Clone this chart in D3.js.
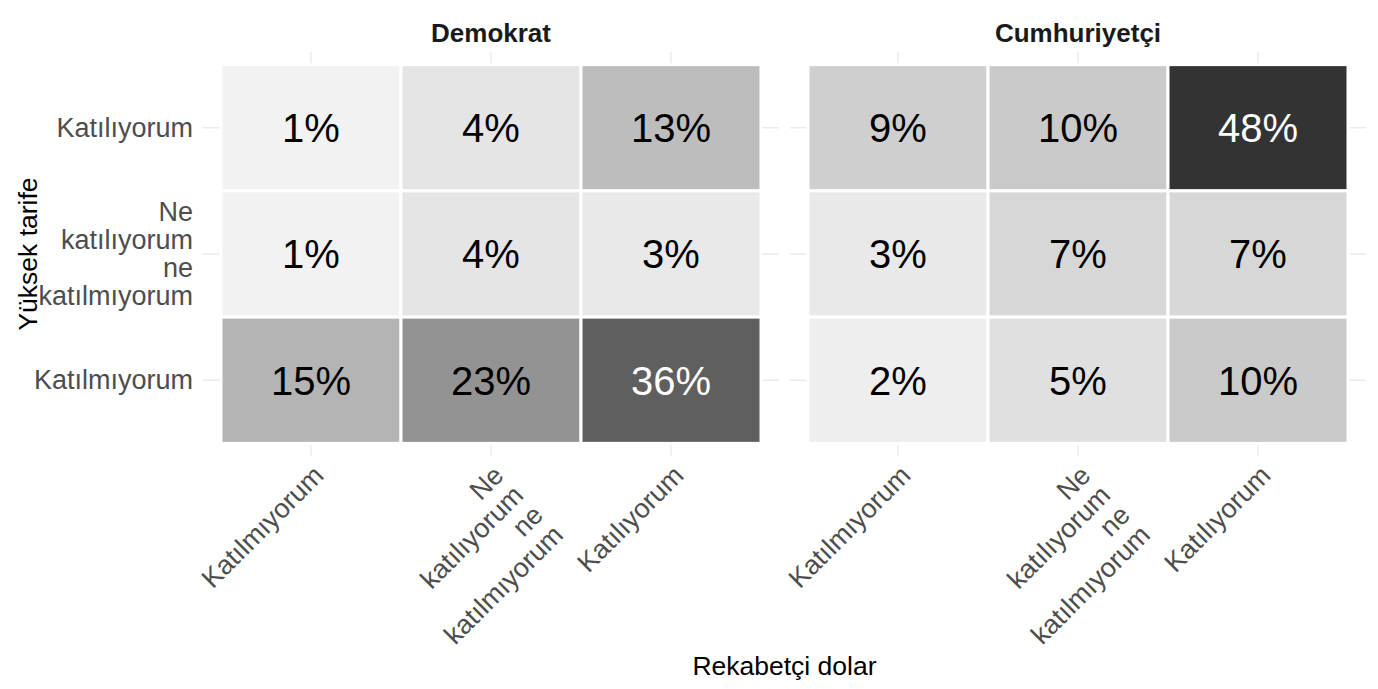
<!DOCTYPE html>
<html>
<head>
<meta charset="utf-8">
<script src="https://cdn.jsdelivr.net/npm/d3@7"></script>
<style>
  body { margin: 0; background: #fff; }
  text { font-family: "Liberation Sans", Arial, Helvetica, sans-serif; }
</style>
</head>
<body>
<div id="chart"></div>
<script>
const svgWidth = 1378;
const svgHeight = 689;

// data
const facets = ["Demokrat", "Cumhuriyetçi"];
const xCats = ["Katılmıyorum", "Ne katılıyorum ne katılmıyorum", "Katılıyorum"];
const yCats = ["Katılıyorum", "Ne katılıyorum ne katılmıyorum", "Katılmıyorum"];
// rows follow yCats, columns follow xCats
const demValues = [
  [1, 4, 13],
  [1, 4, 3],
  [15, 23, 36]
];
const repValues = [
  [9, 10, 48],
  [3, 7, 7],
  [2, 5, 10]
];
const facetValues = [demValues, repValues];

const panel = { top: 52, bottom: 456, left: 203, width: 576, gap: 11 };
const panelHeight = panel.bottom - panel.top;

const svg = d3.select("#chart")
  .append("svg")
  .attr("width", svgWidth)
  .attr("height", svgHeight);

const fill = d3.scaleLinear()
  .domain([0, 48])
  .range(["#f7f7f7", "#333333"])
  .interpolate(d3.interpolateLab);

const yScale = d3.scaleBand()
  .domain(yCats)
  .range([0, panelHeight])
  .paddingOuter(0.1);

facets.forEach(function(name, i) {
  const values = facetValues[i];
  const px = panel.left + i * (panel.width + panel.gap);

  const xScale = d3.scaleBand()
    .domain(xCats)
    .range([0, panel.width])
    .paddingOuter(0.1);

  const g = svg.append("g")
    .attr("transform", `translate(${px}, ${panel.top})`);

  // grid
  g.selectAll(".vgrid")
    .data(xCats)
    .enter()
    .append("line")
    .attr("x1", d => xScale(d) + xScale.bandwidth() / 2)
    .attr("x2", d => xScale(d) + xScale.bandwidth() / 2)
    .attr("y1", 0)
    .attr("y2", panelHeight)
    .attr("stroke", "#ebebeb")
    .attr("stroke-width", 1.4);

  g.selectAll(".hgrid")
    .data(yCats)
    .enter()
    .append("line")
    .attr("x1", 0)
    .attr("x2", panel.width)
    .attr("y1", d => yScale(d) + yScale.bandwidth() / 2)
    .attr("y2", d => yScale(d) + yScale.bandwidth() / 2)
    .attr("stroke", "#ebebeb")
    .attr("stroke-width", 1.4);

  const cells = [];
  yCats.forEach((yc, r) => {
    xCats.forEach((xc, c) => {
      cells.push({ x: xc, y: yc, value: values[r][c] });
    });
  });

  g.selectAll("rect.tile")
    .data(cells)
    .enter()
    .append("rect")
    .attr("class", "tile")
    .attr("x", d => xScale(d.x))
    .attr("y", d => yScale(d.y))
    .attr("width", xScale.bandwidth())
    .attr("height", yScale.bandwidth())
    .attr("fill", d => fill(d.value))
    .attr("stroke", "#ffffff")
    .attr("stroke-width", 3);

  g.selectAll("text.cell")
    .data(cells)
    .enter()
    .append("text")
    .attr("class", "cell")
    .attr("x", d => xScale(d.x) + xScale.bandwidth() / 2)
    .attr("y", d => yScale(d.y) + yScale.bandwidth() / 2)
    .attr("dy", "0.36em")
    .attr("text-anchor", "middle")
    .attr("font-size", 40)
    .attr("fill", d => d.value > 30 ? "#ffffff" : "#000000")
    .text(d => d.value + "%");

  // facet strip
  svg.append("text")
    .attr("x", px + panel.width / 2)
    .attr("y", 42)
    .attr("text-anchor", "middle")
    .attr("font-size", 26)
    .attr("font-weight", "bold")
    .attr("fill", "#1a1a1a")
    .text(name);

  // x axis
  const xAxis = g.append("g")
    .attr("transform", `translate(0, ${panelHeight})`)
    .call(d3.axisBottom(xScale).tickSize(0));
  xAxis.select(".domain").remove();
  xAxis.selectAll("text").each(function(d) {
    const t = d3.select(this);
    const words = d.split(" ");
    t.text(null)
      .attr("y", 0)
      .attr("dy", null)
      .attr("text-anchor", "end")
      .attr("transform", "translate(0, 7) rotate(-45)")
      .attr("font-size", 27)
      .attr("fill", "#4d4d4d");
    words.forEach((w, k) => {
      t.append("tspan")
        .attr("x", 0)
        .attr("y", 20 + k * 28)
        .text(w);
    });
  });

  // y axis only on first panel
  if (i === 0) {
    const yAxis = g.append("g")
      .call(d3.axisLeft(yScale).tickSize(0).tickPadding(10));
    yAxis.select(".domain").remove();
    yAxis.selectAll("text").each(function(d) {
      const t = d3.select(this);
      const words = d.split(" ");
      t.text(null)
        .attr("dy", null)
        .attr("font-size", 27)
        .attr("fill", "#4d4d4d");
      const start = 9 - (words.length - 1) * 28 / 2;
      words.forEach((w, k) => {
        t.append("tspan")
          .attr("x", -10)
          .attr("y", start + k * 28)
          .text(w);
      });
    });
  }
});

// axis titles
svg.append("text")
  .attr("x", panel.left + (2 * panel.width + panel.gap) / 2)
  .attr("y", 675)
  .attr("text-anchor", "middle")
  .attr("font-size", 26.5)
  .attr("fill", "#000")
  .text("Rekabetçi dolar");

svg.append("text")
  .attr("transform", `translate(37, ${panel.top + panelHeight / 2}) rotate(-90)`)
  .attr("text-anchor", "middle")
  .attr("font-size", 26.5)
  .attr("fill", "#000")
  .text("Yüksek tarife");
</script>
</body>
</html>
